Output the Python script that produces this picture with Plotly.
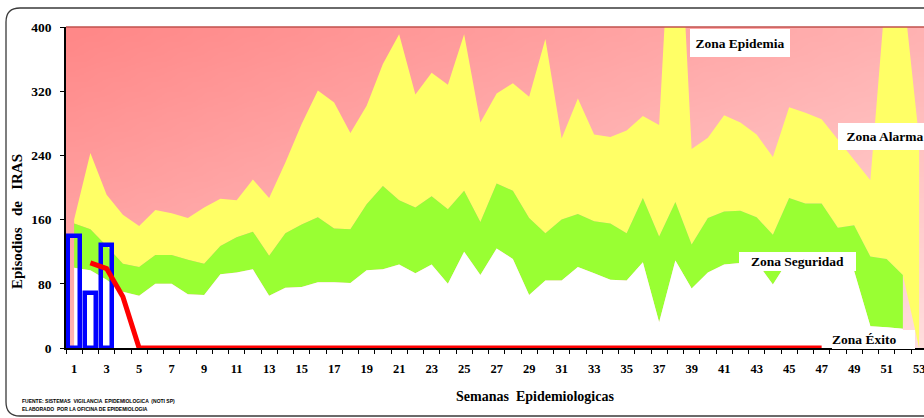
import base64
import struct
import zlib

import plotly.graph_objects as go

# ---------------- data ----------------
semanas = list(range(1, 54))
tick_semanas = list(range(1, 54, 2))
y_ticks = [0, 80, 160, 240, 320, 400]

# upper limit of each zone (weeks 1..53 / 1..52)
zona_alarma = [160, 243, 191, 166, 152, 172, 168, 162, 175, 186, 184, 210, 187, 231, 279,
               321, 306, 268, 302, 354, 391, 316, 343, 328, 391, 281, 317, 330, 313, 385,
               261, 311, 266, 263, 271, 289, 278, 650, 248, 262, 290, 281, 266, 238, 300,
               293, 285, 260, 235, 209, 458, 450, 260]
zona_seguridad = [155, 148, 127, 105, 101, 116, 116, 110, 105, 127, 138, 145, 115, 143, 154,
                  163, 149, 148, 179, 202, 184, 175, 189, 173, 196, 157, 205, 196, 162, 143,
                  160, 167, 158, 155, 143, 187, 139, 182, 129, 162, 170, 171, 163, 141, 187,
                  180, 180, 150, 153, 114, 111, 91]
zona_exito = [100, 97, 85, 70, 65, 80, 80, 67, 66, 92, 94, 98, 65, 75, 76,
              82, 82, 81, 97, 98, 104, 93, 104, 80, 120, 91, 124, 111, 66, 84,
              84, 101, 93, 85, 84, 107, 32, 109, 74, 94, 104, 106, 107, 79, 111,
              110, 108, 104, 96, 27, 26, 24]
# base of the alarm zone at week 53 falls to zero
alarma_base = zona_seguridad + [0]

semanas_casos = [1, 2, 3]
casos = [140, 68, 128]

semanas_tendencia = list(range(2, 48))
tendencia = [106, 99, 64] + [0] * 43

zonas_texto = ["Zona Epidemia", "Zona Alarma", "Zona Seguridad", "Zona Éxito"]

# ---------------- layout geometry ----------------
W, H = 924, 418
ML, MR, MT, MB = 66, 0, 27, 70
PW, PH = W - ML - MR, H - MT - MB


def px(xp):
    return (xp - ML) / PW


def py(yp):
    return (H - MB - yp) / PH


# gradient background for the plot area (pink, darker to the top-left)
def gradient_png(w=64, h=32):
    rows = []
    for j in range(h):
        v = j / (h - 1)
        row = bytearray([0])
        for i in range(w):
            u = i / (w - 1)
            g = int(min(255, 136 + 42 * u + 44 * v))
            row += bytes([255, g, g])
        rows.append(bytes(row))
    raw = b"".join(rows)

    def chunk(tag, data):
        c = struct.pack(">I", len(data)) + tag + data
        return c + struct.pack(">I", zlib.crc32(tag + data) & 0xFFFFFFFF)

    png = b"\x89PNG\r\n\x1a\n"
    png += chunk(b"IHDR", struct.pack(">IIBBBBB", w, h, 8, 2, 0, 0, 0))
    png += chunk(b"IDAT", zlib.compress(raw, 9))
    png += chunk(b"IEND", b"")
    return "data:image/png;base64," + base64.b64encode(png).decode()


SERIF = "Liberation Serif"
YELLOW = "#FFFF66"
GREEN = "#99FF33"

fig = go.Figure()

# zone areas (base subplot)
fig.add_trace(go.Scatter(x=semanas, y=alarma_base, mode="lines",
                         line=dict(width=0, color=YELLOW), hoverinfo="skip"))
fig.add_trace(go.Scatter(x=semanas, y=zona_alarma, mode="lines", fill="tonexty",
                         fillcolor=YELLOW, line=dict(width=0, color=YELLOW), name="Zona Alarma"))
fig.add_trace(go.Scatter(x=semanas[:52], y=zona_exito, mode="lines",
                         line=dict(width=0, color=GREEN), hoverinfo="skip"))
fig.add_trace(go.Scatter(x=semanas[:52], y=zona_seguridad, mode="lines", fill="tonexty",
                         fillcolor=GREEN, line=dict(width=0, color=GREEN), name="Zona Seguridad"))
fig.add_trace(go.Scatter(x=semanas[:52], y=zona_exito, mode="lines", fill="tozeroy",
                         fillcolor="#FFFFFF", line=dict(width=0, color="#FFFFFF"), name="Zona Éxito"))

# cases and trend (overlay subplot so they draw above the areas)
fig.add_trace(go.Bar(x=semanas_casos, y=casos, width=0.72, xaxis="x2", yaxis="y2",
                     marker=dict(color="rgba(0,0,0,0)", line=dict(color="#0000FF", width=4.5)),
                     name="Casos"))
fig.add_trace(go.Scatter(x=semanas_tendencia, y=tendencia, mode="lines", xaxis="x2", yaxis="y2",
                         line=dict(color="#FF0000", width=5), name="Tendencia"))

x_range = [0.5, 0.5 + PW / 16.25]

fig.update_layout(
    width=W, height=H,
    margin=dict(l=ML, r=MR, t=MT, b=MB, pad=0, autoexpand=False),
    paper_bgcolor="white",
    plot_bgcolor="rgba(0,0,0,0)",
    showlegend=False,
    bargap=0,
    xaxis=dict(
        range=x_range, showgrid=False, zeroline=False, automargin=False,
        tickmode="array", tickvals=tick_semanas, ticktext=[str(t) for t in tick_semanas],
        ticks="outside", ticklen=8, tickcolor="rgba(0,0,0,0)", ticklabeloverflow="allow",
        minor=dict(tickmode="linear", tick0=0.5, dtick=1, ticks="outside", ticklen=4,
                   tickcolor="#000000", showgrid=False),
        showline=True, linecolor="#000000", linewidth=1.5,
        tickfont=dict(family=SERIF, size=12.5, color="#000000", weight="bold"),
    ),
    yaxis=dict(
        range=[0, 400], showgrid=False, zeroline=False, automargin=False,
        tickmode="array", tickvals=y_ticks, ticktext=[str(t) for t in y_ticks],
        ticks="outside", ticklen=4, tickcolor="#000000", ticklabelstandoff=6,
        showline=True, linecolor="#000000", linewidth=1.5,
        tickfont=dict(family=SERIF, size=13.5, color="#000000", weight="bold"),
    ),
    xaxis2=dict(overlaying="x", matches="x", visible=False, anchor="y2"),
    yaxis2=dict(overlaying="y", matches="y", visible=False, anchor="x2"),
    images=[dict(source=gradient_png(), xref="paper", yref="paper", x=0, y=1,
                 sizex=1, sizey=1, sizing="stretch", xanchor="left", yanchor="top",
                 layer="below")],
)

# plot-area top border and rounded outer frame
fig.add_shape(type="line", xref="paper", yref="paper", x0=0, x1=1, y0=1, y1=1,
              line=dict(color="#C0504D", width=1.5))
frame = (f"M {px(940)} {py(8)} L {px(20)} {py(8)} Q {px(6)} {py(8)} {px(6)} {py(22)} "
         f"L {px(6)} {py(402)} Q {px(6)} {py(416)} {px(20)} {py(416)} L {px(940)} {py(416)}")
fig.add_shape(type="path", xref="paper", yref="paper", path=frame,
              line=dict(color="#3A3A3A", width=1.3))

# zone labels
label_font = dict(family=SERIF, size=13.5, color="#000000", weight="bold")
label_pos = [(42, 380, 100, 28, "center"), (50.9, 264, 94, 27, "center"),
             (45.5, 108, 117, 19, "center"), (50.2, 10.5, 83, 19, "left")]
for txt, (lx, ly, bw, bh, al) in zip(zonas_texto, label_pos):
    fig.add_annotation(x=lx, y=ly, xref="x", yref="y", text=txt, showarrow=False,
                       xanchor="center", yanchor="middle",
                       bgcolor="white", width=bw, height=bh, borderpad=0, borderwidth=0,
                       align=al, font=label_font)

# axis titles
fig.add_annotation(x=px(17), y=py(222), xref="paper", yref="paper",
                   xanchor="center", yanchor="middle",
                   text="Episodios   de   IRAS", textangle=-90, showarrow=False,
                   font=dict(family=SERIF, size=15, color="#000000", weight="bold"))
fig.add_annotation(x=px(535), y=py(397), xref="paper", yref="paper",
                   xanchor="center", yanchor="middle",
                   text="Semanas  Epidemiologicas", showarrow=False,
                   font=dict(family=SERIF, size=14, color="#000000", weight="bold"))

# source note
note_font = dict(family="Liberation Sans Narrow, Liberation Sans", size=5, color="#000000",
                 weight="bold")
fig.add_annotation(x=px(20), y=py(400.5), xref="paper", yref="paper",
                   xanchor="left", yanchor="middle",
                   text="FUENTE: SISTEMAS  VIGILANCIA  EPIDEMIOLOGICA  (NOTI SP)", showarrow=False,
                   font=note_font)
fig.add_annotation(x=px(20), y=py(408.5), xref="paper", yref="paper",
                   xanchor="left", yanchor="middle",
                   text="ELABORADO  POR LA OFICINA DE EPIDEMIOLOGIA", showarrow=False,
                   font=note_font)

fig.write_html("out.html",
               config={"displayModeBar": False},
               post_script="document.body.style.margin='0px';"
                           "document.documentElement.style.overflow='hidden';")
